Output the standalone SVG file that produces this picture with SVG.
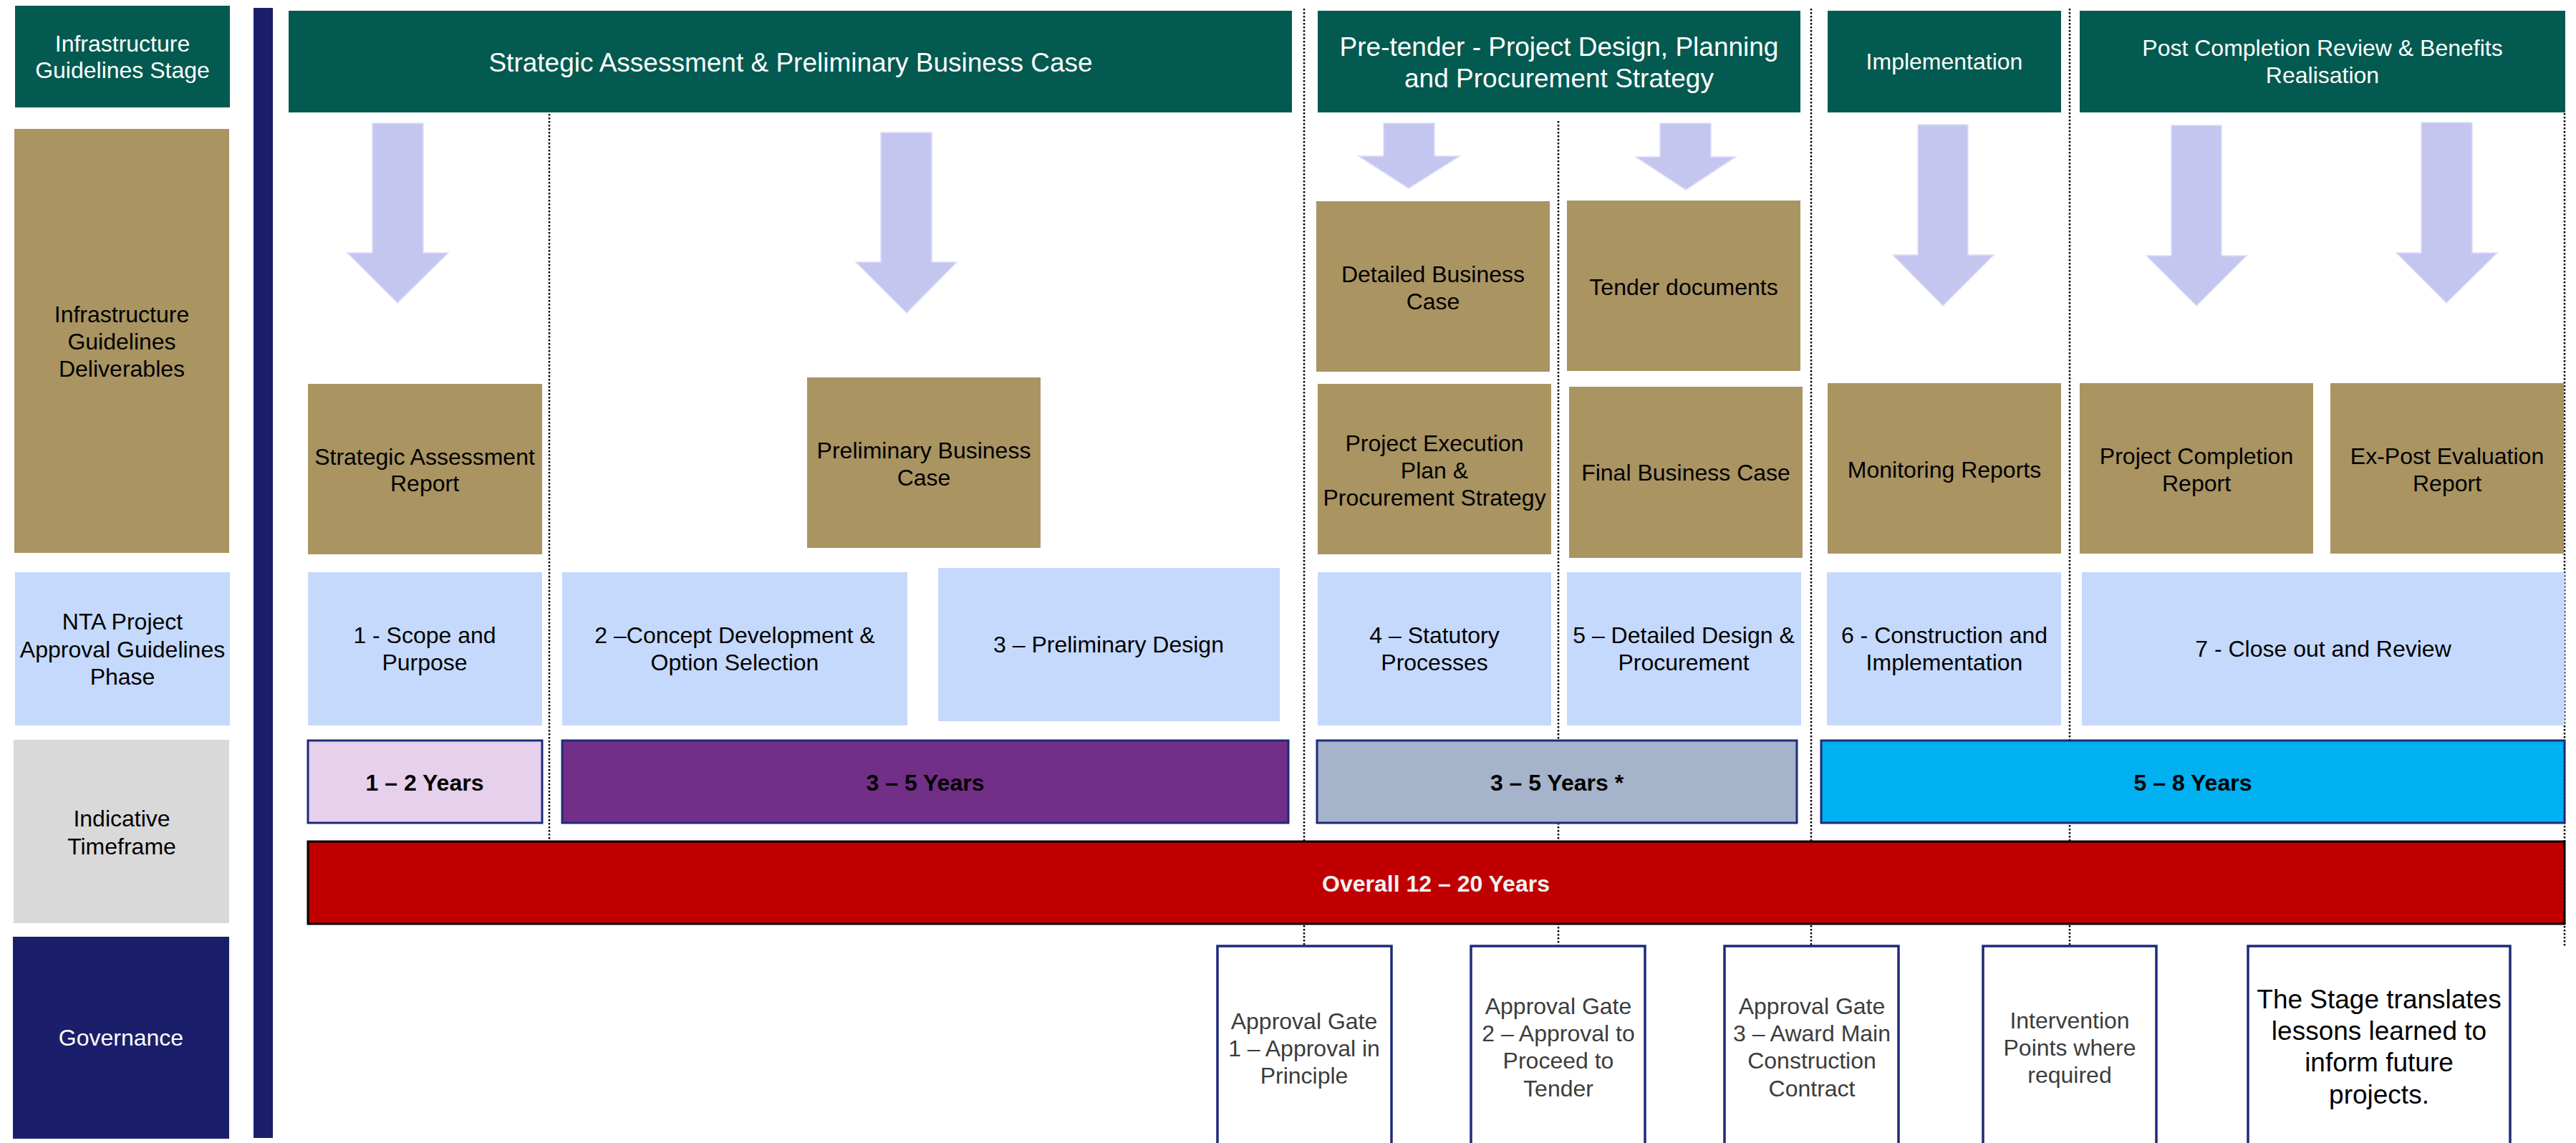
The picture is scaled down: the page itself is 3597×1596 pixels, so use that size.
<svg xmlns="http://www.w3.org/2000/svg" width="3597" height="1596" viewBox="0 0 3597 1596">
  <style>
    text { font-family: "Liberation Sans", Arial, sans-serif; text-anchor: middle; }
    .stage { fill: #025A50; }
    .deliv { fill: #A99462; }
    .phase { fill: #C5D9FC; }
    .time { stroke: #1F2A7A; stroke-width: 3; }
    .gate { fill: #FFFFFF; stroke: #1F2A7A; stroke-width: 3.5; }
    .arrow { fill: #C5C6F0; stroke: #DDE0F8; stroke-width: 1.5; }
    .divider { stroke: #000000; stroke-width: 2.5; stroke-dasharray: 2.5 2.5; fill: none; }
    .t32 { font-size: 32px; fill: #000000; }
    .t37 { font-size: 37px; fill: #000000; }
    .w32 { font-size: 32px; fill: #FFFFFF; }
    .w37 { font-size: 37px; fill: #FFFFFF; }
    .b32 { font-size: 32px; font-weight: bold; fill: #000000; }
    .g32 { font-size: 32px; fill: #3C3C3C; }
  </style>

  <rect width="3597" height="1596" fill="#FFFFFF"/>

  <!-- column dividers (dotted) -->
  <g id="connectors">
    <line class="divider" x1="767" y1="159" x2="767" y2="1175"/>
    <line class="divider" x1="1821" y1="12" x2="1821" y2="1321"/>
    <line class="divider" x1="2176" y1="169" x2="2176" y2="1321"/>
    <line class="divider" x1="2529" y1="12" x2="2529" y2="1321"/>
    <line class="divider" x1="2890" y1="12" x2="2890" y2="1321"/>
    <line class="divider" x1="3581" y1="158" x2="3581" y2="1321"/>
  </g>

  <!-- row labels -->
  <g id="label-stage">
    <rect class="stage" x="21" y="8" width="300" height="142"/>
    <text class="w32" x="171" y="72">Infrastructure</text>
    <text class="w32" x="171" y="109">Guidelines Stage</text>
  </g>
  <g id="label-deliverables">
    <rect class="deliv" x="20" y="180" width="300" height="592"/>
    <text class="t32" x="170" y="450">Infrastructure</text>
    <text class="t32" x="170" y="488">Guidelines</text>
    <text class="t32" x="170" y="526">Deliverables</text>
  </g>
  <g id="label-phase">
    <rect class="phase" x="21" y="799" width="300" height="214"/>
    <text class="t32" x="171" y="879">NTA Project</text>
    <text class="t32" x="171" y="918">Approval Guidelines</text>
    <text class="t32" x="171" y="956">Phase</text>
  </g>
  <g id="label-timeframe">
    <rect x="19" y="1033" width="301" height="256" fill="#D9D9D9"/>
    <text class="t32" x="170" y="1154">Indicative</text>
    <text class="t32" x="170" y="1193">Timeframe</text>
  </g>
  <g id="label-governance">
    <rect x="18" y="1308" width="302" height="282" fill="#1B1F6B"/>
    <text class="w32" x="169" y="1460">Governance</text>
  </g>

  <!-- vertical separator bar -->
  <rect id="separator" x="354" y="11" width="27" height="1578" fill="#1B1F6B"/>

  <!-- stage headers -->
  <g id="stage-strategic">
    <rect class="stage" x="403" y="15" width="1401" height="142"/>
    <text class="w37" x="1104" y="100">Strategic Assessment &amp; Preliminary Business Case</text>
  </g>
  <g id="stage-pretender">
    <rect class="stage" x="1840" y="15" width="674" height="142"/>
    <text class="w37" x="2177" y="78">Pre-tender - Project Design, Planning</text>
    <text class="w37" x="2177" y="122">and Procurement Strategy</text>
  </g>
  <g id="stage-implementation">
    <rect class="stage" x="2552" y="15" width="326" height="142"/>
    <text class="w32" x="2715" y="97">Implementation</text>
  </g>
  <g id="stage-post">
    <rect class="stage" x="2904" y="15" width="678" height="142"/>
    <text class="w32" x="3243" y="78">Post Completion Review &amp; Benefits</text>
    <text class="w32" x="3243" y="116">Realisation</text>
  </g>

  <!-- block arrows from stages to deliverables -->
  <g id="arrows">
    <polygon class="arrow" points="520,172 591,172 591,353 626,353 555,423 485,353 520,353"/>
    <polygon class="arrow" points="1230,185 1301,185 1301,366 1336,366 1266,437 1195,366 1230,366"/>
    <polygon class="arrow" points="1932,172 2003,172 2003,218 2038,218 1967,263 1897,218 1932,218"/>
    <polygon class="arrow" points="2318,172 2389,172 2389,219 2424,219 2354,265 2284,219 2318,219"/>
    <polygon class="arrow" points="2678,174 2748,174 2748,356 2784,356 2713,427 2643,356 2678,356"/>
    <polygon class="arrow" points="3032,175 3102,175 3102,357 3137,357 3067,427 2997,357 3032,357"/>
    <polygon class="arrow" points="3381,171 3452,171 3452,353 3487,353 3416,423 3346,353 3381,353"/>
  </g>

  <!-- deliverables -->
  <g id="deliv-sar">
    <rect class="deliv" x="430" y="536" width="327" height="238"/>
    <text class="t32" x="593" y="649">Strategic Assessment</text>
    <text class="t32" x="593" y="686">Report</text>
  </g>
  <g id="deliv-pbc">
    <rect class="deliv" x="1127" y="527" width="326" height="238"/>
    <text class="t32" x="1290" y="640">Preliminary Business</text>
    <text class="t32" x="1290" y="678">Case</text>
  </g>
  <g id="deliv-dbc">
    <rect class="deliv" x="1838" y="281" width="326" height="238"/>
    <text class="t32" x="2001" y="394">Detailed Business</text>
    <text class="t32" x="2001" y="432">Case</text>
  </g>
  <g id="deliv-tender">
    <rect class="deliv" x="2188" y="280" width="326" height="238"/>
    <text class="t32" x="2351" y="412">Tender documents</text>
  </g>
  <g id="deliv-pep">
    <rect class="deliv" x="1840" y="536" width="326" height="238"/>
    <text class="t32" x="2003" y="630">Project Execution</text>
    <text class="t32" x="2003" y="668">Plan &amp;</text>
    <text class="t32" x="2003" y="706">Procurement Strategy</text>
  </g>
  <g id="deliv-fbc">
    <rect class="deliv" x="2191" y="540" width="326" height="239"/>
    <text class="t32" x="2354" y="671">Final Business Case</text>
  </g>
  <g id="deliv-monitoring">
    <rect class="deliv" x="2552" y="535" width="326" height="238"/>
    <text class="t32" x="2715" y="667">Monitoring Reports</text>
  </g>
  <g id="deliv-pcr">
    <rect class="deliv" x="2904" y="535" width="326" height="238"/>
    <text class="t32" x="3067" y="648">Project Completion</text>
    <text class="t32" x="3067" y="686">Report</text>
  </g>
  <g id="deliv-expost">
    <rect class="deliv" x="3254" y="535" width="326" height="238"/>
    <text class="t32" x="3417" y="648">Ex-Post Evaluation</text>
    <text class="t32" x="3417" y="686">Report</text>
  </g>

  <!-- NTA phases -->
  <g id="phase-1">
    <rect class="phase" x="430" y="799" width="327" height="214"/>
    <text class="t32" x="593" y="898">1 - Scope and</text>
    <text class="t32" x="593" y="936">Purpose</text>
  </g>
  <g id="phase-2">
    <rect class="phase" x="785" y="799" width="482" height="214"/>
    <text class="t32" x="1026" y="898">2 –Concept Development &amp;</text>
    <text class="t32" x="1026" y="936">Option Selection</text>
  </g>
  <g id="phase-3">
    <rect class="phase" x="1310" y="793" width="477" height="214"/>
    <text class="t32" x="1548" y="911">3 – Preliminary Design</text>
  </g>
  <g id="phase-4">
    <rect class="phase" x="1840" y="799" width="326" height="214"/>
    <text class="t32" x="2003" y="898">4 – Statutory</text>
    <text class="t32" x="2003" y="936">Processes</text>
  </g>
  <g id="phase-5">
    <rect class="phase" x="2188" y="799" width="327" height="214"/>
    <text class="t32" x="2351" y="898">5 – Detailed Design &amp;</text>
    <text class="t32" x="2351" y="936">Procurement</text>
  </g>
  <g id="phase-6">
    <rect class="phase" x="2551" y="799" width="327" height="214"/>
    <text class="t32" x="2715" y="898">6 - Construction and</text>
    <text class="t32" x="2715" y="936">Implementation</text>
  </g>
  <g id="phase-7">
    <rect class="phase" x="2907" y="799" width="674" height="214"/>
    <text class="t32" x="3244" y="917">7 - Close out and Review</text>
  </g>

  <!-- indicative timeframes -->
  <g id="time-1">
    <rect class="time" x="430" y="1034" width="327" height="115" fill="#E6D0EC"/>
    <text class="b32" x="593" y="1104">1 – 2 Years</text>
  </g>
  <g id="time-2">
    <rect class="time" x="785" y="1034" width="1014" height="115" fill="#722F87"/>
    <text class="b32" x="1292" y="1104">3 – 5 Years</text>
  </g>
  <g id="time-3">
    <rect class="time" x="1839" y="1034" width="670" height="115" fill="#A5B3CB"/>
    <text class="b32" x="2174" y="1104">3 – 5 Years *</text>
  </g>
  <g id="time-4">
    <rect class="time" x="2543" y="1034" width="1038" height="115" fill="#00B0F0"/>
    <text class="b32" x="3062" y="1104">5 – 8 Years</text>
  </g>
  <g id="time-overall">
    <rect x="430" y="1175" width="3151" height="115" fill="#C00000" stroke="#000000" stroke-width="3"/>
    <text class="b32" x="2005" y="1245" style="fill:#F2F2F2">Overall 12 – 20 Years</text>
  </g>

  <!-- governance gates -->
  <g id="gate-1">
    <rect class="gate" x="1700" y="1321" width="243" height="300"/>
    <text class="g32" x="1821" y="1437">Approval Gate</text>
    <text class="g32" x="1821" y="1475">1 – Approval in</text>
    <text class="g32" x="1821" y="1513">Principle</text>
  </g>
  <g id="gate-2">
    <rect class="gate" x="2054" y="1321" width="243" height="300"/>
    <text class="g32" x="2176" y="1416">Approval Gate</text>
    <text class="g32" x="2176" y="1454">2 – Approval to</text>
    <text class="g32" x="2176" y="1492">Proceed to</text>
    <text class="g32" x="2176" y="1531">Tender</text>
  </g>
  <g id="gate-3">
    <rect class="gate" x="2408" y="1321" width="243" height="300"/>
    <text class="g32" x="2530" y="1416">Approval Gate</text>
    <text class="g32" x="2530" y="1454">3 – Award Main</text>
    <text class="g32" x="2530" y="1492">Construction</text>
    <text class="g32" x="2530" y="1531">Contract</text>
  </g>
  <g id="gate-intervention">
    <rect class="gate" x="2769" y="1321" width="242" height="300"/>
    <text class="g32" x="2890" y="1436">Intervention</text>
    <text class="g32" x="2890" y="1474">Points where</text>
    <text class="g32" x="2890" y="1512">required</text>
  </g>
  <g id="gate-lessons">
    <rect class="gate" x="3139" y="1321" width="366" height="300"/>
    <text class="t37" x="3322" y="1408">The Stage translates</text>
    <text class="t37" x="3322" y="1452">lessons learned to</text>
    <text class="t37" x="3322" y="1496">inform future</text>
    <text class="t37" x="3322" y="1541">projects.</text>
  </g>
</svg>
